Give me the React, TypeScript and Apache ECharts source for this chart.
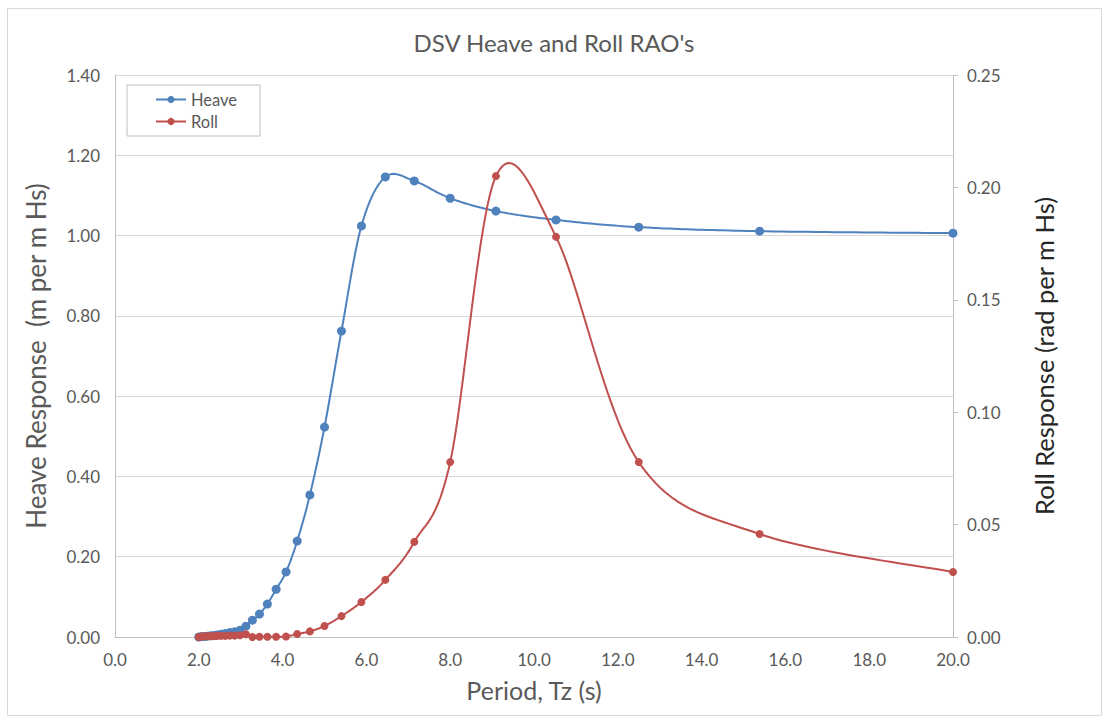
import React, { useEffect, useRef } from "react";
import * as echarts from "echarts";

const periods = [
  2.0, 2.062, 2.128, 2.198, 2.273, 2.353, 2.439, 2.532, 2.632, 2.74, 2.857,
  2.985, 3.125, 3.279, 3.448, 3.636, 3.846, 4.082, 4.348, 4.651, 5.0, 5.405,
  5.882, 6.452, 7.143, 8.0, 9.091, 10.526, 12.5, 15.385, 20.0,
];

const heave = [
  0.0, 0.001, 0.001, 0.002, 0.003, 0.004, 0.005, 0.007, 0.009, 0.011, 0.013,
  0.017, 0.027, 0.042, 0.057, 0.082, 0.119, 0.162, 0.239, 0.354, 0.523, 0.762,
  1.024, 1.146, 1.136, 1.093, 1.061, 1.039, 1.021, 1.011, 1.006,
];

const roll = [
  0.0, 0.0002, 0.0003, 0.0003, 0.0004, 0.0004, 0.0005, 0.0005, 0.0005, 0.0006,
  0.0006, 0.0008, 0.0012, 0.0, 0.0001, 0.0001, 0.0001, 0.0002, 0.0013, 0.0025,
  0.0049, 0.0093, 0.0156, 0.0254, 0.0423, 0.0778, 0.205, 0.178, 0.0778,
  0.0458, 0.0289,
];

const FONT = "Lato, 'Open Sans', sans-serif";
const BLUE = "#4F81BD";
const RED = "#C0504D";

// Excel-style smoothing (Bezier with 1/6 tangents) in pixel space
function smoothPolyline(pts: number[][]): number[][] {
  const out: number[][] = [];
  const n = pts.length;
  const steps = 24;
  for (let i = 0; i < n - 1; i++) {
    const p0 = pts[Math.max(0, i - 1)];
    const p1 = pts[i];
    const p2 = pts[i + 1];
    const p3 = pts[Math.min(n - 1, i + 2)];
    const c1 = [p1[0] + (p2[0] - p0[0]) / 6, p1[1] + (p2[1] - p0[1]) / 6];
    const c2 = [p2[0] - (p3[0] - p1[0]) / 6, p2[1] - (p3[1] - p1[1]) / 6];
    for (let s = i === 0 ? 0 : 1; s <= steps; s++) {
      const t = s / steps;
      const u = 1 - t;
      const a = u * u * u, b = 3 * u * u * t, c = 3 * u * t * t, d = t * t * t;
      out.push([
        a * p1[0] + b * c1[0] + c * c2[0] + d * p2[0],
        a * p1[1] + b * c1[1] + c * c2[1] + d * p2[1],
      ]);
    }
  }
  return out;
}

function curveSeries(values: number[], axis: number, color: string) {
  return {
    type: "custom",
    yAxisIndex: axis,
    silent: true,
    z: 1,
    data: [[periods[0], values[0]]],
    renderItem: (_params: any, api: any) => {
      const pts = periods.map((p, i) => api.coord([p, values[i]]));
      return {
        type: "polyline",
        shape: { points: smoothPolyline(pts) },
        style: { stroke: color, lineWidth: 2, fill: "none" },
      };
    },
  };
}

export default function App() {
  const ref = useRef<HTMLDivElement>(null);
  useEffect(() => {
    document.body.style.margin = "0";
    const chart = echarts.init(ref.current!, null, { renderer: "svg" });
    chart.setOption({
      animation: false,
      backgroundColor: "#ffffff",
      textStyle: { fontFamily: FONT },
      title: {
        text: "DSV Heave and Roll RAO's",
        left: "center",
        top: 25,
        textStyle: { fontFamily: FONT, fontSize: 24, fontWeight: "normal", color: "#595959" },
      },
      graphic: [
        {
          type: "rect",
          shape: { x: 7.5, y: 8.5, width: 1094, height: 707 },
          style: { fill: "none", stroke: "#D9D9D9", lineWidth: 1 },
          silent: true,
        },
      ],
      legend: {
        orient: "vertical",
        left: 127,
        top: 85,
        padding: [6, 23, 6, 28],
        itemGap: 5,
        itemWidth: 30,
        itemHeight: 9,
        borderColor: "#BFBFBF",
        borderWidth: 1,
        backgroundColor: "#ffffff",
        textStyle: { fontFamily: FONT, fontSize: 16.5, color: "#595959" },
        data: [
          { name: "Heave", lineStyle: { opacity: 1, color: BLUE, width: 2 } },
          { name: "Roll", lineStyle: { opacity: 1, color: RED, width: 2 } },
        ],
      },
      grid: { left: 115, right: 155, top: 75, bottom: 85 },
      xAxis: {
        type: "value",
        min: 0,
        max: 20,
        interval: 2,
        name: "Period, Tz (s)",
        nameLocation: "middle",
        nameGap: 40,
        nameTextStyle: { fontFamily: FONT, fontSize: 25, color: "#595959" },
        axisLine: { show: true, lineStyle: { color: "#BFBFBF" } },
        axisTick: { show: false },
        splitLine: { show: false },
        axisLabel: {
          fontFamily: FONT,
          fontSize: 17,
          color: "#595959",
          margin: 14,
          formatter: (v: number) => v.toFixed(1),
        },
      },
      yAxis: [
        {
          type: "value",
          min: 0,
          max: 1.4,
          interval: 0.2,
          position: "left",
          name: "Heave Response  (m per m Hs)",
          nameLocation: "middle",
          nameRotate: 90,
          nameGap: 66,
          nameTextStyle: { fontFamily: FONT, fontSize: 26, color: "#595959" },
          axisLine: { show: true, lineStyle: { color: "#BFBFBF" } },
          axisTick: { show: false },
          splitLine: { show: true, lineStyle: { color: "#D9D9D9", width: 1 } },
          axisLabel: {
            fontFamily: FONT,
            fontSize: 17,
            color: "#595959",
            margin: 15,
            formatter: (v: number) => v.toFixed(2),
          },
        },
        {
          type: "value",
          min: 0,
          max: 0.25,
          interval: 0.05,
          position: "right",
          name: "Roll Response (rad per m Hs)",
          nameLocation: "middle",
          nameRotate: 90,
          nameGap: 78,
          nameTextStyle: { fontFamily: FONT, fontSize: 25.5, color: "#262626" },
          axisLine: { show: true, lineStyle: { color: "#BFBFBF" } },
          axisTick: { show: true, length: 5, lineStyle: { color: "#BFBFBF" } },
          splitLine: { show: false },
          axisLabel: {
            fontFamily: FONT,
            fontSize: 17,
            color: "#595959",
            margin: 14,
            formatter: (v: number) => v.toFixed(2),
          },
        },
      ],
      series: [
        curveSeries(heave, 0, BLUE),
        curveSeries(roll, 1, RED),
        {
          name: "Heave",
          type: "line",
          yAxisIndex: 0,
          z: 3,
          symbol: "circle",
          symbolSize: 9,
          itemStyle: { color: BLUE },
          lineStyle: { color: BLUE, width: 2, opacity: 0 },
          data: periods.map((p, i) => [p, heave[i]]),
        },
        {
          name: "Roll",
          type: "line",
          yAxisIndex: 1,
          z: 3,
          symbol: "circle",
          symbolSize: 8,
          itemStyle: { color: RED },
          lineStyle: { color: RED, width: 2, opacity: 0 },
          data: periods.map((p, i) => [p, roll[i]]),
        },
      ],
    });
    return () => chart.dispose();
  }, []);
  return <div ref={ref} style={{ width: 1108, height: 722, position: "absolute", left: 0, top: 0 }} />;
}
